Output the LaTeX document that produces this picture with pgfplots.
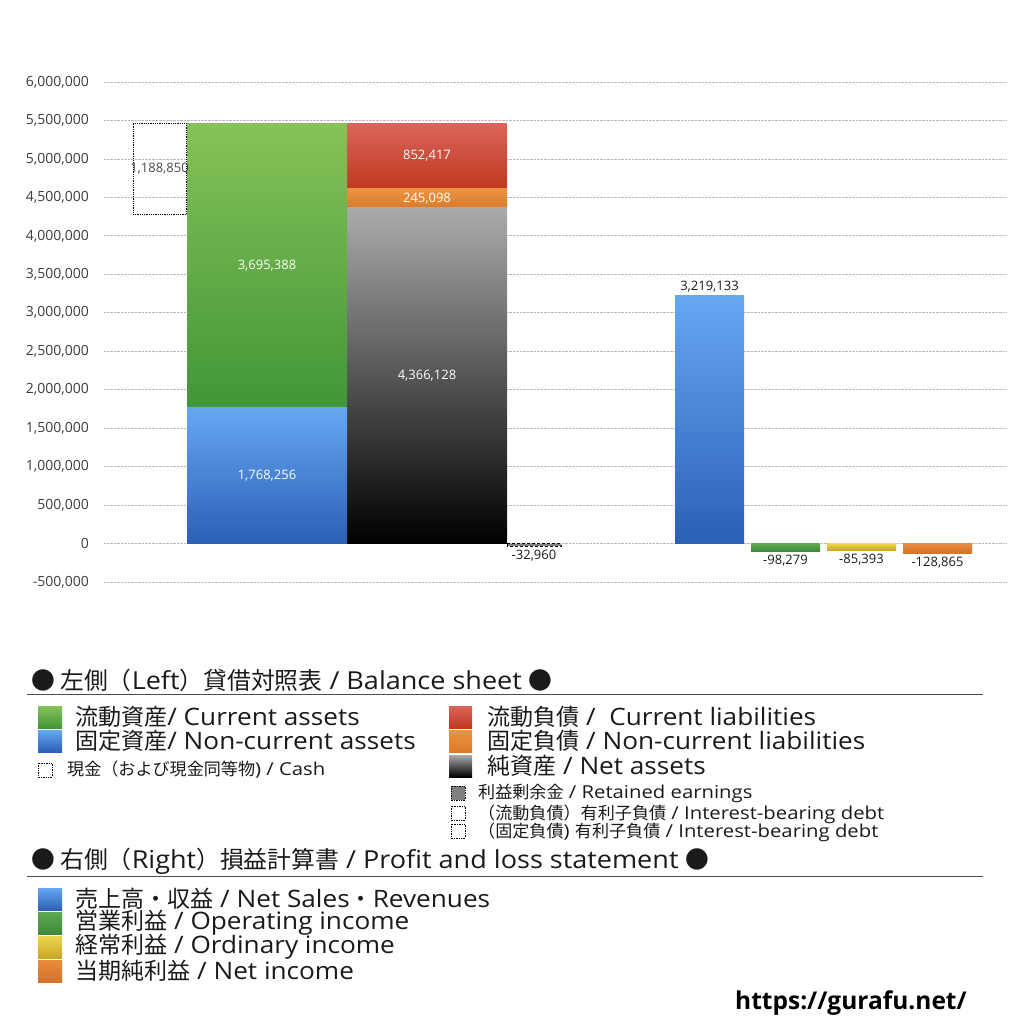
\documentclass[border=0pt]{standalone}
\usepackage{pgfplots}
\pgfplotsset{compat=1.18}
\usepackage{fontspec}
\setmainfont{Open Sans}
\newfontfamily\lat{Open Sans}[FakeStretch=1.09]
\newfontfamily\latS{Open Sans}[FakeStretch=1.14]
\newfontfamily\jp{Noto Sans CJK JP}[Scale=0.96]
\newcommand{\J}[1]{{\jp #1}}

% bar colours (top / bottom of each gradient)
\definecolor{caT}{HTML}{86C257}\definecolor{caB}{HTML}{419638}
\definecolor{ncT}{HTML}{66A7F2}\definecolor{ncB}{HTML}{2C5FB6}
\definecolor{clT}{HTML}{DA655B}\definecolor{clB}{HTML}{C0381F}
\definecolor{nlT}{HTML}{EA9442}\definecolor{nlB}{HTML}{DA7B2B}
\definecolor{naT}{HTML}{ABABAB}\definecolor{naB}{HTML}{000000}
\definecolor{opT}{HTML}{5DAA4E}\definecolor{opB}{HTML}{3E8A3C}
\definecolor{orT}{HTML}{EDD64E}\definecolor{orB}{HTML}{C9A62A}
\definecolor{niT}{HTML}{E98B3B}\definecolor{niB}{HTML}{D4712B}
\definecolor{txt}{HTML}{1A1A1A}

\begin{document}
\begin{tikzpicture}
\path[use as bounding box] (0pt,0pt) rectangle (1024pt,-1024pt);
\pgfplotsset{
  base/.style={
    width=903pt, height=500pt, scale only axis,
    at={(104pt,-582pt)}, anchor=south west,
    xmin=104, xmax=1007, ymin=-500000, ymax=6000000,
    /pgf/number format/fixed, /pgf/number format/precision=0,
    /pgf/number format/1000 sep={,},
    /pgf/number format/assume math mode=true,
  },
}
% main axis: grid, ticks, right-hand bars and retained earnings
\begin{axis}[base,
  ymajorgrids, grid style={gray!55, densely dotted, line width=0.7pt},
  ytick distance=500000, scaled y ticks=false, xtick=\empty,
  axis line style={draw=none}, major tick length=0pt,
  yticklabel style={font=\fontsize{14}{14}\selectfont, text=txt!85, inner sep=0pt, xshift=-15pt},
  ybar, bar shift=0pt,
  every node near coord/.append style={font=\fontsize{13}{13}\selectfont, text=txt},
]
\addplot[draw=none, top color=ncT, bottom color=ncB, bar width=69, nodes near coords]
  coordinates {(709.5,3219133)};
\addplot[draw=none, top color=opT, bottom color=opB, bar width=69, nodes near coords]
  coordinates {(785.5,-98279)};
\addplot[draw=none, top color=orT, bottom color=orB, bar width=69, nodes near coords]
  coordinates {(861.5,-85393)};
\addplot[draw=none, top color=niT, bottom color=niB, bar width=69, nodes near coords]
  coordinates {(937.5,-128865)};
\addplot[draw=black, densely dashed, line width=0.8pt, fill=gray, bar width=54, nodes near coords]
  coordinates {(534,-32960)};
\end{axis}

% overlay axis: the balance sheet as stacked bars
\begin{axis}[base, hide axis,
  ybar stacked, stacked ignores zero, bar shift=0pt,
  every node near coord/.append style={anchor=center,
    font=\fontsize{13}{13}\selectfont, text=white},
]
% invisible base under the cash box
\addplot[draw=none, fill=none, bar width=53]
  coordinates {(159.5,4274794) (267,0) (427,0)};
\addplot[draw=none, top color=ncT, bottom color=ncB, bar width=160, nodes near coords]
  coordinates {(159.5,0) (267,1768256) (427,0)};
\addplot[draw=none, top color=caT, bottom color=caB, bar width=160, nodes near coords]
  coordinates {(159.5,0) (267,3695388) (427,0)};
\addplot[draw=none, top color=naT, bottom color=naB, bar width=160, nodes near coords]
  coordinates {(159.5,0) (267,0) (427,4366128)};
\addplot[draw=none, top color=nlT, bottom color=nlB, bar width=160, nodes near coords]
  coordinates {(159.5,0) (267,0) (427,245098)};
\addplot[draw=none, top color=clT, bottom color=clB, bar width=160, nodes near coords]
  coordinates {(159.5,0) (267,0) (427,852417)};
\addplot[draw=black, densely dotted, line width=0.8pt, fill=none, bar width=53,
  nodes near coords, every node near coord/.append style={text=txt!80}]
  coordinates {(159.5,1188850) (267,0) (427,0)};
\end{axis}

% legend block below the chart
\begin{scope}[x=1pt, y=-1pt, every node/.style={text=txt, inner sep=0pt, anchor=west}]
\def\big{\lat\fontsize{24}{24}\selectfont}
\def\hdr{\lat\fontsize{24.8}{24.8}\selectfont}
\def\sml{\latS\fontsize{17.8}{17.8}\selectfont}
\node[font=\hdr] at (31,680) {\J{● 左側（}Left\J{）貸借対照表} / Balance sheet \J{●}};
\draw[gray!60!black, line width=1pt] (27,694) -- (983,694);

\shade[top color=caT, bottom color=caB] (38,706) rectangle (62,728);
\node[font=\big] at (75,717) {\J{流動資産}/ Current assets};
\shade[top color=ncT, bottom color=ncB] (38,730) rectangle (62,752);
\node[font=\big] at (75,741) {\J{固定資産}/ Non-current assets};
\draw[densely dotted, line width=0.7pt] (38,763) rectangle (52,777);
\node[font=\sml] at (67,770) {\J{現金（および現金同等物}) / Cash};

\shade[top color=clT, bottom color=clB] (449,706) rectangle (472,728);
\node[font=\big] at (487,717) {\J{流動負債} /\ \ Current liabilities};
\shade[top color=nlT, bottom color=nlB] (449,730) rectangle (472,752);
\node[font=\big] at (487,741) {\J{固定負債} / Non-current liabilities};
\shade[top color=naT, bottom color=naB] (449,755) rectangle (472,777);
\node[font=\big] at (487,766) {\J{純資産} / Net assets};
\draw[densely dotted, line width=0.7pt, fill=gray] (451,786) rectangle (465,800);
\node[font=\sml] at (478,793) {\J{利益剰余金} / Retained earnings};
\draw[densely dotted, line width=0.7pt] (451,806) rectangle (465,820);
\node[font=\sml] at (478,814) {\J{（流動負債）有利子負債} / Interest-bearing debt};
\draw[densely dotted, line width=0.7pt] (451,824) rectangle (465,838);
\node[font=\sml] at (478,832) {\J{（固定負債}) \J{有利子負債} / Interest-bearing debt};

\node[font=\hdr] at (31,861) {\J{● 右側（}Right\J{）損益計算書} / Profit and loss statement \J{●}};
\draw[gray!60!black, line width=1pt] (27,876) -- (983,876);

\shade[top color=ncT, bottom color=ncB] (38,888) rectangle (62,910);
\node[font=\big] at (75,899) {\J{売上高・収益} / Net Sales\J{・}Revenues};
\shade[top color=opT, bottom color=opB] (38,912) rectangle (62,934);
\node[font=\big] at (75,923) {\J{営業利益} / Operating income};
\shade[top color=orT, bottom color=orB] (38,936) rectangle (62,958);
\node[font=\big] at (75,947) {\J{経常利益} / Ordinary income};
\shade[top color=niT, bottom color=niB] (38,960) rectangle (62,982);
\node[font=\big] at (75,971) {\J{当期純利益} / Net income};

\node[font=\fontsize{24.5}{24.5}\selectfont\bfseries, text=black] at (735,1003) {https://gurafu.net/};
\end{scope}
\end{tikzpicture}
\end{document}
